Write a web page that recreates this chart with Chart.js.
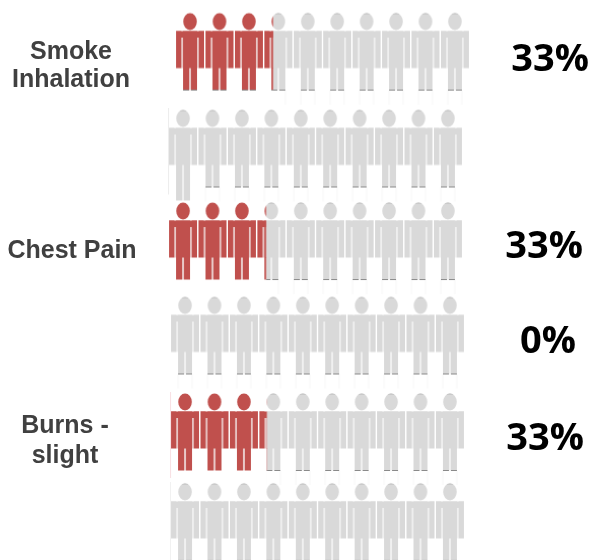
<!DOCTYPE html>
<html><head><meta charset="utf-8">
<style>html,body{margin:0;padding:0;background:#fff}canvas{display:block}</style>
<script src="https://cdn.jsdelivr.net/npm/chart.js@4"></script>
</head><body><canvas id="c" width="592" height="560"></canvas>
<script>
// --- data ---
const categories = ["Smoke Inhalation", "", "Chest Pain", "", "Burns - slight", ""];
const percentLabels = ["33%", "", "33%", "0%", "33%", ""];
const filledPeople = [3.31, 0, 3.31, 0, 3.26, 0];
const peoplePerRow = 10;

// --- layout / style (in axis units or pixels of sprites) ---
const W = 592, H = 560, pitchX = 29.44, pitchY = 94.1;
const rowShiftX = [0, -0.238, -0.238, -0.17, -0.17, -0.17];
const rowShiftY = [0, 0.03, 0.014, 0.018, 0.044, 0];
const RED = "#c0504d", REDGAP = "#e9c9c8", GREY = "#d9d9d9", GREYGAP = "#f0f0f0",
      CAP = "#8a8a8a", GHOST = "#f8f8f8", TEXT = "#404040";
const SW = 32, SH = 96, HEAD_OFF = 10;
const rowEdge = [null, "#ececec", null, null, "#f8dfe3", "#f0f0f0"];
const labelLines = [
  {row:1, dx:-119, dy:30.5, t:"Smoke"}, {row:1, dx:-119, dy:59, t:"Inhalation"},
  {row:3, dx:-111, dy:40, t:"Chest Pain"},
  {row:5, dx:-120, dy:24, t:"Burns -"}, {row:5, dx:-120, dy:54, t:"slight"}
];

function person(frac, o) {
  const c = document.createElement("canvas"); c.width = SW; c.height = SH;
  const g = c.getContext("2d"), cx = SW / 2, hy = HEAD_OFF;
  const shape = (col, gap) => {
    g.fillStyle = gap;
    g.fillRect(cx - 9, hy + 16, 2, 30.5);
    g.fillRect(cx + 7, hy + 16, 2, 30.5);
    const end = o.long ? 82 : 68.5;
    g.fillRect(cx - 1, hy + 46, 2, end - 46);
    g.fillStyle = col;
    g.beginPath(); g.ellipse(cx, hy, 6.8, 8.5, 0, 0, Math.PI * 2); g.fill();
    g.fillRect(cx - 14, hy + 9.5, 28, 6.5);
    g.fillRect(cx - 14, hy + 9.5, 5.2, 37);
    g.fillRect(cx + 8.8, hy + 9.5, 5.2, 37);
    g.fillRect(cx - 7, hy + 9.5, 14, 37);
    g.fillRect(cx - 7, hy + 46, 6, end - 46);
    g.fillRect(cx + 1, hy + 46, 6, end - 46);
  };
  if (o.edge) { g.fillStyle = o.edge; g.fillRect(cx - 15, 0, 1, SH - 10); }
  if (!o.long) {
    g.fillStyle = GHOST;
    [-7.5, 6.5].forEach(d => g.fillRect(cx + d, hy + 69, 1, 14));
  }
  shape(GREY, GREYGAP);
  const caps = () => {
    g.fillStyle = CAP;
    g.fillRect(cx - 7, hy + 68, 6, 1); g.fillRect(cx + 1, hy + 68, 6, 1);
  };
  if (!o.long) caps();
  g.save(); g.beginPath(); g.ellipse(cx, hy, 6.8, 8.5, 0, 0, Math.PI * 2); g.clip();
  g.fillStyle = CAP; g.fillRect(cx - 7, hy - 8.5, 14, 0.7); g.restore();
  if (frac > 0) {
    g.save(); g.beginPath(); g.rect(0, 0, cx - 14 + 28.3 * frac, SH); g.clip();
    g.clearRect(0, 0, SW, SH);
    if (o.edge) { g.fillStyle = o.edge; g.fillRect(cx - 15, 0, 1, SH - 10); }
    shape(RED, REDGAP);
    if (o.redCaps) caps();
    g.restore();
  }
  return c;
}

const sprites = [], points = [];
categories.forEach((_, r) => {
  for (let i = 0; i < peoplePerRow; i++) {
    const f = Math.max(0, Math.min(1, filledPeople[r] - i));
    sprites.push(person(f, { long: r === 1 && i === 0, redCaps: r === 0, edge: i === 0 ? rowEdge[r] : null }));
    points.push({ x: i + 1 + rowShiftX[r], y: r + 1 + rowShiftY[r] });
  }
});

// head of row 1 / person 1 sits at px (190, 21.5); sprite centre is 38 px lower
const x0 = 190, y0 = 21.5 + SH / 2 - HEAD_OFF;
const xMin = 1 - x0 / pitchX, xMax = xMin + W / pitchX;
const yMin = 1 - y0 / pitchY, yMax = yMin + H / pitchY;

const textPlugin = {
  id: "texts",
  afterDatasetsDraw(ch) {
    const g = ch.ctx, sx = ch.scales.x, sy = ch.scales.y;
    g.save(); g.textAlign = "center"; g.textBaseline = "middle";
    g.fillStyle = TEXT; g.font = 'bold 25px "Liberation Sans"';
    labelLines.forEach(l => {
      const r = l.row - 1;
      g.fillText(l.t, sx.getPixelForValue(1 + rowShiftX[r]) + l.dx,
                 sy.getPixelForValue(l.row + rowShiftY[r]) - 38 + l.dy);
    });
    g.fillStyle = "#000"; g.font = 'bold 38px "Open Sans"';
    const px = [360, 0, 361, 363, 360, 0], py = [38.5, 0, 36, 36.5, 37, 0];
    percentLabels.forEach((t, r) => {
      if (!t) return;
      g.fillText(t, sx.getPixelForValue(1 + rowShiftX[r]) + px[r],
                 sy.getPixelForValue(r + 1 + rowShiftY[r]) - 38 + py[r]);
    });
    g.restore();
  }
};

new Chart(document.getElementById("c"), {
  type: "scatter",
  data: { datasets: [{
    data: points, clip: false,
    pointStyle: ctx => sprites[ctx.dataIndex],
    pointRadius: 0.1, pointHoverRadius: 0.1, pointBorderWidth: 0, borderWidth: 0
  }]},
  options: {
    responsive: false, animation: false, devicePixelRatio: 1,
    layout: { padding: 0 },
    plugins: { legend: { display: false }, tooltip: { enabled: false } },
    scales: {
      x: { type: "linear", display: false, min: xMin, max: xMax },
      y: { type: "linear", display: false, reverse: true, min: yMin, max: yMax }
    }
  },
  plugins: [textPlugin]
});
</script></body></html>
